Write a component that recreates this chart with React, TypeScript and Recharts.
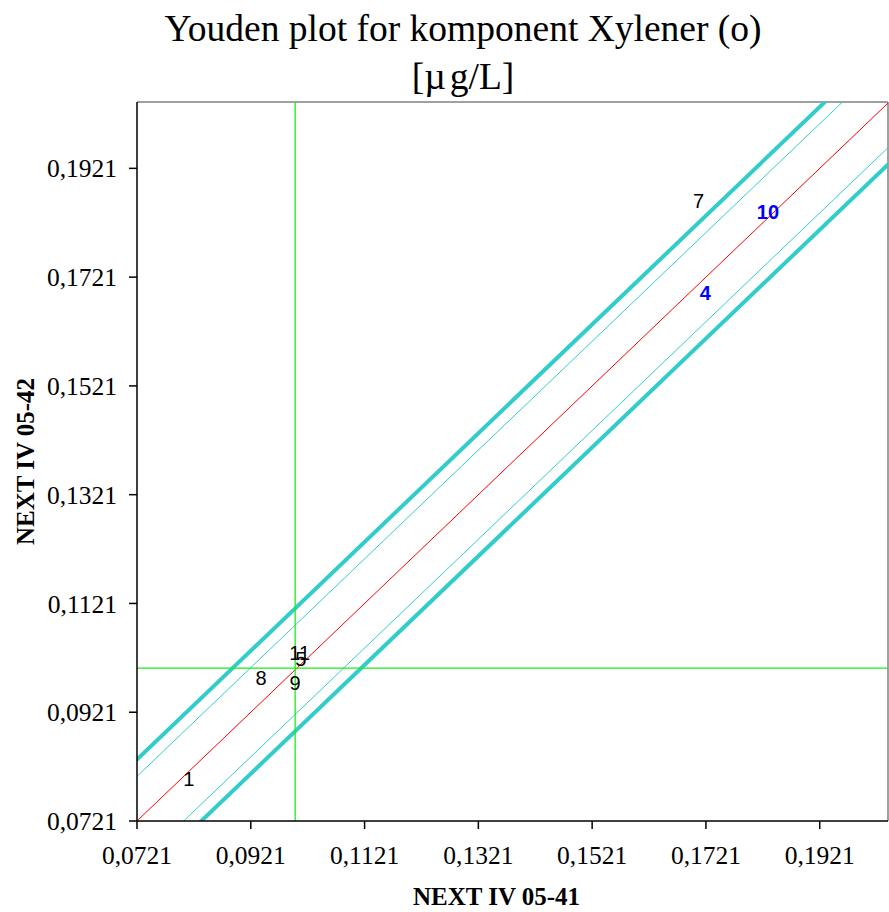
import { ScatterChart, Scatter, XAxis, YAxis, ReferenceLine, Label } from "recharts"

// lab ids, in plot order
const labIds = ["1", "8", "9", "5", "11", "4", "7", "10"]
const sampleA = [0.0812, 0.0939, 0.0999, 0.1009, 0.1007, 0.172, 0.1708, 0.183] // NEXT IV 05-41
const sampleB = [0.0798, 0.0984, 0.0975, 0.1018, 0.103, 0.1691, 0.1861, 0.184] // NEXT IV 05-42
const flagged = ["4", "10"]

const axisTicks = [0.0721, 0.0921, 0.1121, 0.1321, 0.1521, 0.1721, 0.1921]
const xDomain = [0.0721, 0.2041]
const yDomain = [0.0721, 0.2043]

const medianA = 0.0999
const medianB = 0.1002
const innerBand = 0.0082
const outerBand = 0.0113

const points = labIds.map((id, i) => ({ id, x: sampleA[i], y: sampleB[i] }))

const fmt = (v: number) => v.toFixed(4).replace(".", ",")

// diagonal y = x + offset, long enough to be clipped by the plot area
const diag = (offset: number) => [
  { x: 0.05, y: 0.05 + offset },
  { x: 0.25, y: 0.25 + offset },
]

function LabelShape(props: any) {
  const { cx, cy, payload } = props
  const hot = flagged.includes(payload.id)
  return (
    <text
      x={cx}
      y={cy}
      textAnchor="middle"
      dominantBaseline="central"
      fontFamily="'Liberation Sans', Arial, sans-serif"
      fontSize={20}
      fontWeight={hot ? "bold" : "normal"}
      fill={hot ? "#0000ff" : "#000"}
    >
      {payload.id}
    </text>
  )
}

const serif = "'Liberation Serif', 'Times New Roman', serif"

export default function App() {
  return (
    <div style={{ position: "absolute", left: 0, top: 0, width: 889, height: 912, background: "#fff" }}>
      <div
        style={{
          position: "absolute",
          top: 5,
          left: 0,
          width: 926,
          textAlign: "center",
          fontFamily: serif,
          fontSize: 37.5,
          lineHeight: "48px",
          color: "#000",
        }}
      >
        Youden plot for komponent Xylener (o)
        <br />
        [<span style={{ letterSpacing: 4 }}>µ</span>g/L]
      </div>
      <ScatterChart width={889} height={912} margin={{ top: 102, right: 1, left: 0, bottom: 0 }}>
        <XAxis
          type="number"
          dataKey="x"
          domain={xDomain}
          ticks={axisTicks}
          allowDataOverflow
          tickFormatter={fmt}
          stroke="#000"
          strokeWidth={1.5}
          tickSize={8}
          tickMargin={17}
          height={91}
          tick={{ fill: "#000", fontSize: 25.5, fontFamily: serif }}
        >
          <Label
            value="NEXT IV 05-41"
            position="insideBottom"
            offset={7}
            dx={-16}
            style={{ fontFamily: serif, fontSize: 25, fontWeight: "bold", fill: "#000" }}
          />
        </XAxis>
        <YAxis
          type="number"
          dataKey="y"
          domain={yDomain}
          ticks={axisTicks}
          allowDataOverflow
          tickFormatter={fmt}
          stroke="#000"
          strokeWidth={1.5}
          tickSize={8}
          tickMargin={12}
          width={137}
          tick={{ fill: "#000", fontSize: 25.5, fontFamily: serif }}
        >
          <Label
            value="NEXT IV 05-42"
            angle={-90}
            position="insideLeft"
            offset={25}
            style={{ textAnchor: "middle", fontFamily: serif, fontSize: 25, fontWeight: "bold", fill: "#000" }}
          />
        </YAxis>

        <ReferenceLine y={yDomain[1]} stroke="#a0a0a0" strokeWidth={2} />
        <ReferenceLine x={xDomain[1]} stroke="#a0a0a0" strokeWidth={2} />

        <ReferenceLine segment={diag(outerBand)} ifOverflow="hidden" stroke="#33cccc" strokeWidth={4} />
        <ReferenceLine segment={diag(-outerBand)} ifOverflow="hidden" stroke="#33cccc" strokeWidth={4} />
        <ReferenceLine segment={diag(innerBand)} ifOverflow="hidden" stroke="#33cccc" strokeWidth={1} />
        <ReferenceLine segment={diag(-innerBand)} ifOverflow="hidden" stroke="#33cccc" strokeWidth={1} />
        <ReferenceLine segment={diag(0)} ifOverflow="hidden" stroke="#ff0000" strokeWidth={1} />

        <ReferenceLine x={medianA} stroke="#1aee1a" strokeWidth={1.3} />
        <ReferenceLine y={medianB} stroke="#1aee1a" strokeWidth={1.3} />

        <Scatter data={points} shape={LabelShape} isAnimationActive={false} />
      </ScatterChart>
    </div>
  )
}
